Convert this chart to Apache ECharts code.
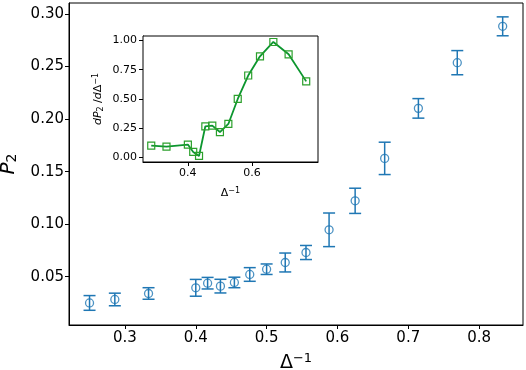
<!DOCTYPE html>
<html>
<head>
<meta charset="utf-8">
<script src="https://cdn.jsdelivr.net/npm/echarts@6/dist/echarts.min.js"></script>
<style>
  html, body { margin: 0; padding: 0; background: #fff; }
  #chart { width: 526px; height: 370px; }
</style>
</head>
<body>
<div id="chart"></div>
<script>
// main data: P2 vs 1/Delta, with error bars
var invDelta = [0.25, 0.2857, 0.3333, 0.4, 0.4167, 0.4348, 0.4545, 0.4762, 0.5, 0.5263,
                0.5556, 0.5882, 0.625, 0.6667, 0.7143, 0.7692, 0.8333];
var p2 = [0.025, 0.0283, 0.034, 0.0394, 0.0438, 0.041, 0.0445, 0.0521, 0.0571, 0.0635,
          0.073, 0.0946, 0.1222, 0.1626, 0.2102, 0.2537, 0.2883];
var p2Err = [0.007, 0.006, 0.0055, 0.008, 0.0055, 0.0065, 0.005, 0.0065, 0.005, 0.009,
             0.0067, 0.016, 0.012, 0.0154, 0.0093, 0.0115, 0.009];

// inset: derivative dP2/dDelta^-1
var insetX = [0.2857, 0.3333, 0.4, 0.4167, 0.4348, 0.4545, 0.4762, 0.5, 0.5263, 0.5556,
              0.5882, 0.625, 0.6667, 0.7143, 0.7692];
var insetY = [0.102, 0.094, 0.111, 0.048, 0.014, 0.267, 0.273, 0.218, 0.287, 0.50,
              0.70, 0.864, 0.986, 0.881, 0.65];

// ticks
var mainXTicks = [0.3, 0.4, 0.5, 0.6, 0.7, 0.8];
var mainYTicks = [0.05, 0.10, 0.15, 0.20, 0.25, 0.30];
var insetXTicks = [0.4, 0.6];
var insetYTicks = [0, 0.25, 0.5, 0.75, 1.0];

var blue = '#1f77b4';
var green = '#0c962e';
var font = 'DejaVu Sans';

var chart = echarts.init(document.getElementById('chart'));

var mainData = invDelta.map(function (x, i) { return [x, p2[i], p2Err[i]]; });
var insetData = insetX.map(function (x, i) { return [x, insetY[i]]; });

function axisCommon(ticks, digits, size, margin) {
    return {
        axisLine: { show: true, onZero: false, lineStyle: { color: '#000', width: 1 } },
        axisTick: { show: true, inside: false, length: 4, customValues: ticks, lineStyle: { color: '#000', width: 1 } },
        axisLabel: {
            customValues: ticks, margin: margin, color: '#000', fontFamily: font, fontSize: size,
            formatter: function (v) { return Number(v).toFixed(digits); }
        },
        splitLine: { show: false }
    };
}

var xMain = Object.assign({
    type: 'value', gridIndex: 0, min: 0.221, max: 0.862,
    name: '{d|Δ}{s|−1}', nameLocation: 'middle', nameGap: 27,
    nameTextStyle: {
        rich: {
            d: { fontFamily: font, fontSize: 19, color: '#000' },
            s: { fontFamily: font, fontSize: 13, color: '#000', padding: [0, 0, 9, 0] }
        }
    }
}, axisCommon(mainXTicks, 1, 15, 6));

var yMain = Object.assign({
    type: 'value', gridIndex: 0, min: 0.004, max: 0.3105,
    name: '{p|P}{s|2}', nameLocation: 'middle', nameGap: 48, nameRotate: 90,
    nameTextStyle: {
        rich: {
            p: { fontFamily: font, fontSize: 20, fontStyle: 'italic', color: '#000' },
            s: { fontFamily: font, fontSize: 14, color: '#000', padding: [8, 0, 0, 0] }
        }
    }
}, axisCommon(mainYTicks, 2, 15, 5));

var xInset = Object.assign({
    type: 'value', gridIndex: 1, min: 0.26, max: 0.806,
    name: '{d|Δ}{s|−1}', nameLocation: 'middle', nameGap: 25,
    nameTextStyle: {
        rich: {
            d: { fontFamily: font, fontSize: 11, color: '#000' },
            s: { fontFamily: font, fontSize: 8, color: '#000', padding: [0, 0, 5, 0] }
        }
    }
}, axisCommon(insetXTicks, 1, 11, 6));

var yInset = Object.assign({
    type: 'value', gridIndex: 1, min: -0.0375, max: 1.037,
    name: '{i|dP}{s|2}{n| /}{i|d}{n|Δ}{u|−1}', nameLocation: 'middle', nameGap: 38, nameRotate: 90,
    nameTextStyle: {
        rich: {
            i: { fontFamily: font, fontSize: 11, fontStyle: 'italic', color: '#000' },
            n: { fontFamily: font, fontSize: 11, color: '#000' },
            s: { fontFamily: font, fontSize: 8, color: '#000', padding: [5, 0, 0, 0] },
            u: { fontFamily: font, fontSize: 8, color: '#000', padding: [0, 0, 5, 0] }
        }
    }
}, axisCommon(insetYTicks, 2, 11, 6));

chart.setOption({
    animation: false,
    backgroundColor: '#fff',
    grid: [
        { left: 69, top: 3, right: 3, bottom: 45, show: true, borderColor: '#000', borderWidth: 1,
          backgroundColor: 'transparent', outerBoundsMode: 'none', containLabel: false },
        { left: 143, top: 36, width: 175, height: 126, show: true, borderColor: '#000', borderWidth: 1,
          backgroundColor: '#fff', z: 5, outerBoundsMode: 'none', containLabel: false }
    ],
    xAxis: [xMain, xInset],
    yAxis: [yMain, yInset],
    series: [
        {
            type: 'custom',
            xAxisIndex: 0, yAxisIndex: 0,
            data: mainData,
            renderItem: function (params, api) {
                var x = api.value(0), y = api.value(1), e = api.value(2);
                var top = api.coord([x, y + e]);
                var bot = api.coord([x, y - e]);
                var w = 6;
                var st = { stroke: blue, lineWidth: 1.5 };
                return {
                    type: 'group',
                    children: [
                        { type: 'line', shape: { x1: top[0], y1: top[1], x2: bot[0], y2: bot[1] }, style: st },
                        { type: 'line', shape: { x1: top[0] - w, y1: top[1], x2: top[0] + w, y2: top[1] }, style: st },
                        { type: 'line', shape: { x1: bot[0] - w, y1: bot[1], x2: bot[0] + w, y2: bot[1] }, style: st }
                    ]
                };
            },
            z: 2
        },
        {
            type: 'scatter',
            xAxisIndex: 0, yAxisIndex: 0,
            data: mainData,
            symbol: 'circle',
            symbolSize: 8,
            itemStyle: { color: 'rgba(0,0,0,0)', borderColor: blue, borderWidth: 1.3 },
            z: 3
        },
        {
            type: 'line',
            xAxisIndex: 1, yAxisIndex: 1,
            data: insetData,
            symbol: 'rect',
            symbolSize: 7,
            showAllSymbol: true,
            lineStyle: { color: green, width: 1.8 },
            itemStyle: { color: 'rgba(0,0,0,0)', borderColor: '#2ca02c', borderWidth: 1.2 },
            z: 6
        }
    ]
});
</script>
</body>
</html>
